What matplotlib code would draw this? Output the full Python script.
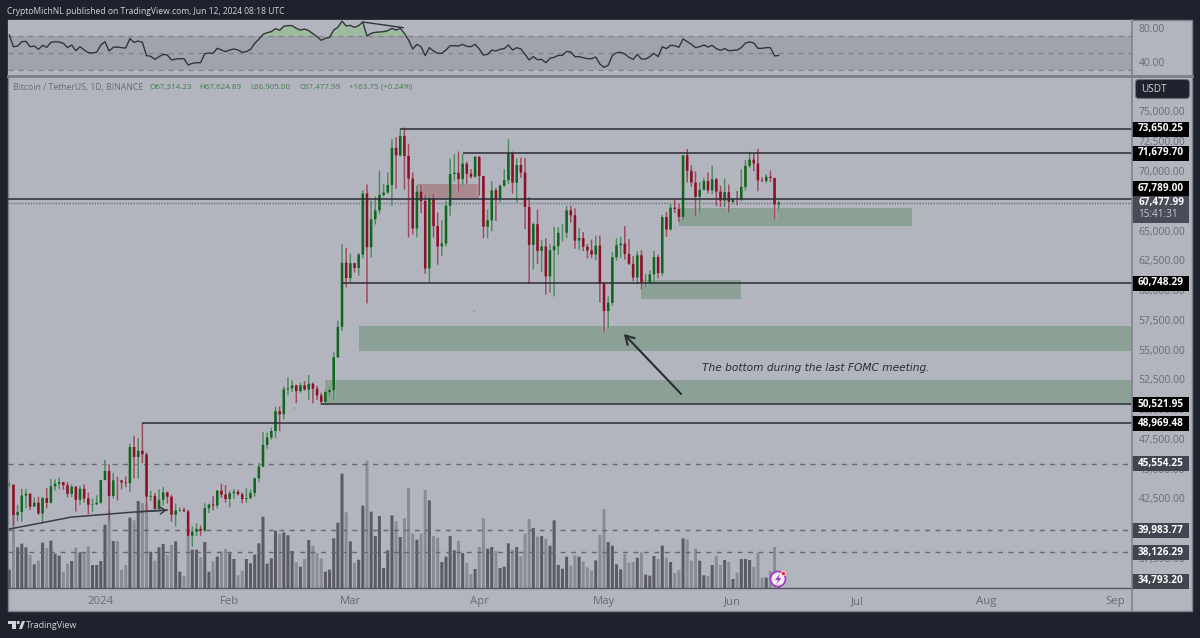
#!/usr/bin/env python3
"""BTC/USDT daily TradingView snapshot with RSI pane, volume and drawn levels."""
import matplotlib
matplotlib.use("Agg")
import matplotlib.pyplot as plt
import numpy as np
from matplotlib.patches import Circle, FancyBboxPatch, Polygon, Rectangle
from matplotlib.transforms import ScaledTranslation

plt.rcParams["font.family"] = ["Open Sans", "DejaVu Sans"]

# ── Data (one entry per day, 10 Dec 2023 to 12 Jun 2024) ──────────────────
opens = [
    43750, 43790, 41240, 41490, 42880, 43020, 41940, 42280, 41370, 42660, 42270, 43650, 43860, 43997, 43740, 43016, 43613, 42520, 43442, 42627, 42100, 42142,
    42284, 44180, 44946, 42845, 44151, 44145, 43968, 43929, 46951, 46110, 46632, 46339, 42782, 42847, 41732, 42511, 43137, 42776, 41262, 41618, 41665, 41545, 39507, 39845, 40077, 39933, 41816, 42120, 42035, 43288, 42952,
    42582, 43075, 43185, 42992, 42576, 42658, 43084, 44318, 45301, 47132, 47751, 48293, 49958, 49699, 51795, 51880, 52124, 51642, 52137, 51774, 52258, 51849, 51288, 50744, 51568, 51728, 54476, 57037, 62432,
    61130, 62387, 61987, 63113, 68245, 63724, 66074, 66823, 68124, 68313, 68955, 72078, 71452, 73072, 71388, 69499, 65300, 68393, 67609, 61937, 67840, 65501, 63796, 64037, 67211, 69880, 69988, 69451, 70744, 69892, 69645,
    71333, 69702, 65446, 65980, 68508, 67837, 68896, 69360, 71620, 69146, 70631, 70006, 67116, 63924, 65661, 63419, 63793, 61277, 63470, 63818, 64941, 64941, 66819, 66414, 64289, 64498, 63770, 63461, 63118, 63866,
    60672, 58364, 59060, 62882, 63892, 64031, 63161, 62334, 61187, 63049, 60792, 60793, 61448, 62901, 61552, 66256, 65231, 67051, 66940, 66278, 71446, 70148, 69166, 67969, 68549, 69290, 68507, 69436, 68398, 67652, 68352,
    67540, 67766, 67760, 68804, 70567, 71082, 70757, 69342, 69305, 69648, 69540, 67314,
]
highs = [
    44000, 43800, 42100, 43430, 43420, 43090, 42720, 42780, 42770, 43500, 44280, 44240, 44400, 44020, 44000, 43800, 43670, 43680, 43800, 43130, 42600, 42900,
    44180, 45880, 45500, 44770, 44480, 44190, 44480, 47250, 47890, 47700, 48970, 46500, 43260, 43080, 43400, 43580, 43200, 42930, 42200, 41870, 41880, 41680, 40280, 40550, 40350, 42230, 42200, 42840, 43320, 43880, 43750,
    43290, 43420, 43380, 43120, 43500, 43390, 44380, 45600, 48200, 48170, 48590, 50330, 50370, 52040, 52820, 52570, 52200, 52370, 52490, 52990, 52380, 52090, 51510, 51680, 52000, 54900, 57560, 64000, 63680,
    63180, 62430, 63230, 68500, 69000, 67640, 67990, 70170, 69050, 70000, 72800, 72970, 73650, 73777, 72420, 70000, 68900, 68930, 68100, 68030, 68240, 66650, 65970, 67620, 71150, 71560, 71770, 71550, 70900, 70300, 71370,
    71370, 69700, 66900, 69290, 68725, 69000, 70280, 72800, 71760, 71170, 71240, 71230, 67930, 65800, 66900, 64360, 64480, 64000, 65440, 65400, 65700, 67200, 67200, 67000, 65350, 65000, 64000, 64370, 64700, 64700,
    60780, 59600, 63300, 64490, 64600, 65500, 64400, 62990, 63400, 63470, 61490, 61800, 63420, 63100, 66440, 66700, 67400, 67700, 67400, 71450, 71980, 70620, 70100, 69200, 69560, 70000, 70600, 69560, 68900, 69500, 69000,
    67850, 68450, 70280, 71050, 71750, 71610, 71990, 69600, 69860, 70150, 69560, 67625,
]
lows = [
    43600, 40400, 40680, 40670, 41810, 41660, 41930, 41250, 40530, 41800, 42210, 43300, 43400, 43350, 42700, 42750, 41530, 42090, 42300, 41300, 41520, 42060,
    42180, 44150, 40750, 42630, 42450, 43400, 43580, 43200, 44300, 44300, 45600, 41500, 42440, 41720, 41720, 42050, 42200, 40680, 40280, 41500, 41500, 39430, 38555, 39480, 39500, 39820, 41400, 41620, 41800, 42680, 42280,
    41880, 42590, 42880, 42220, 42260, 42570, 42800, 44000, 45240, 46800, 47560, 47710, 48300, 49250, 51300, 51570, 50630, 51510, 51680, 50900, 50620, 50900, 50530, 50590, 51280, 50900, 54450, 56700, 60360,
    60800, 61600, 61320, 62790, 59000, 62850, 65630, 66500, 67960, 68230, 67190, 68620, 71330, 68555, 64530, 64800, 64550, 66600, 61500, 60775, 64530, 62260, 63000, 63790, 66380, 69280, 68380, 68900, 69050, 69500, 69560,
    68060, 64490, 64500, 65060, 65930, 67500, 68800, 69040, 68210, 67500, 69560, 65250, 60660, 61850, 62300, 61630, 59770, 59900, 59600, 63100, 64200, 64500, 65800, 63600, 63500, 63400, 62800, 62800, 62600, 59100,
    56550, 56900, 58800, 62600, 62800, 62700, 62250, 60880, 60630, 60190, 60400, 60620, 60750, 61100, 61300, 64600, 65100, 66600, 65830, 66000, 69160, 68800, 66300, 66600, 68500, 68250, 68200, 67200, 67100, 67100, 66650,
    67400, 67250, 67600, 68500, 70400, 70120, 68420, 69200, 69120, 69180, 66050, 66905,
]
closes = [
    43790, 41240, 41490, 42880, 43020, 41940, 42280, 41370, 42660, 42270, 43650, 43860, 43997, 43740, 43016, 43613, 42520, 43442, 42627, 42100, 42142, 42284,
    44180, 44946, 42845, 44151, 44145, 43968, 43929, 46951, 46110, 46632, 46339, 42782, 42847, 41732, 42511, 43137, 42776, 41262, 41618, 41665, 41545, 39507, 39845, 40077, 39933, 41816, 42120, 42035, 43288, 42952, 42582,
    43075, 43185, 42992, 42576, 42658, 43084, 44318, 45301, 47132, 47751, 48293, 49958, 49699, 51795, 51880, 52124, 51642, 52137, 51774, 52258, 51849, 51288, 50744, 51568, 51728, 54476, 57037, 62432, 61130,
    62387, 61987, 63113, 68245, 63724, 66074, 66823, 68124, 68313, 68955, 72078, 71452, 73072, 71388, 69499, 65300, 68393, 67609, 61937, 67840, 65501, 63796, 64037, 67211, 69880, 69988, 69451, 70744, 69892, 69645, 71333,
    69702, 65446, 65980, 68508, 67837, 68896, 69360, 71620, 69146, 70631, 70006, 67116, 63924, 65661, 63419, 63793, 61277, 63470, 63818, 64941, 64941, 66819, 66414, 64289, 64498, 63770, 63461, 63118, 63866, 60672,
    58364, 59060, 62882, 63892, 64031, 63161, 62334, 61187, 63049, 60792, 60793, 61448, 62901, 61552, 66256, 65231, 67051, 66940, 66278, 71446, 70148, 69166, 67969, 68549, 69290, 68507, 69436, 68398, 67652, 68352, 67540,
    67766, 67760, 68804, 70567, 71082, 70757, 69342, 69305, 69648, 69540, 67314, 67478,
]
# relative units, the pane has no scale of its own
volumes = [
    55, 225, 122, 133, 122, 99, 71, 82, 136, 120, 142, 103, 97, 49, 73, 81, 121, 107, 105, 125, 69, 69,
    81, 190, 235, 141, 141, 55, 69, 211, 203, 261, 255, 253, 109, 82, 122, 132, 99, 129, 140, 49, 37, 160, 115, 115, 92, 138, 49, 80, 94, 110, 117,
    104, 87, 38, 52, 87, 74, 100, 134, 214, 73, 89, 172, 163, 167, 158, 111, 77, 64, 87, 144, 127, 105, 89, 49, 55, 149, 196, 343, 227,
    140, 75, 85, 247, 382, 229, 156, 216, 60, 113, 218, 200, 153, 209, 300, 163, 145, 163, 294, 263, 156, 151, 78, 94, 156, 113, 142, 105, 75, 42, 57,
    123, 209, 118, 123, 111, 60, 64, 134, 115, 123, 95, 163, 207, 180, 154, 156, 148, 127, 203, 69, 58, 94, 67, 98, 94, 80, 62, 52, 83, 160,
    236, 138, 127, 71, 56, 102, 76, 78, 91, 107, 40, 37, 96, 87, 127, 91, 78, 45, 54, 149, 145, 82, 118, 82, 38, 36, 69, 96, 69, 84, 78,
    27, 46, 87, 87, 84, 64, 105, 31, 31, 51, 123, 40,
]
rsi = [
    71.2, 57.4, 58.2, 63.3, 63.7, 57.4, 58.2, 54.3, 59.0, 56.7, 62.5, 63.3, 62.9,
    61.4, 56.3, 59.4, 52.7, 57.4, 53.5, 50.4, 50.0, 50.8, 59.4, 63.3, 52.3, 56.7, 57.0, 56.3, 55.9, 66.9, 62.5, 64.1, 62.5,
    46.9, 46.1, 42.5, 45.7, 48.4, 47.6, 41.8, 42.9, 43.3, 43.3, 35.9, 37.8, 38.6, 38.6, 49.2, 50.0, 49.6, 55.5, 53.5, 51.6,
    53.5, 54.7, 53.5, 50.8, 51.6, 54.3, 61.4, 66.1, 71.9, 73.9, 75.1, 78.6, 76.7, 81.4, 82.2, 82.2, 79.0, 77.0, 78.2, 76.3,
    72.7, 69.2, 64.9, 67.2, 68.4, 77.0, 80.2, 87.6, 81.8, 82.5, 80.2, 82.2, 86.5, 70.0, 73.1, 74.3, 74.7, 75.1, 76.3, 79.0,
    77.0, 79.0, 73.1, 65.3, 54.7, 60.2, 57.4, 46.9, 56.3, 52.3, 49.6, 49.6, 53.5, 58.6,
    58.6, 58.2, 60.2, 57.8, 57.4, 60.2, 54.7, 47.6, 48.4, 53.5, 52.3, 54.3, 55.1, 59.4, 53.5, 56.3, 54.7, 48.4, 41.8, 45.7,
    42.1, 42.5, 38.6, 43.7, 44.9, 47.2, 47.2, 51.9, 51.2, 45.7, 45.7, 44.5, 43.3, 43.3, 45.3, 37.0, 33.1, 35.5, 47.2, 50.4,
    50.8, 48.8, 44.9, 42.5, 48.4, 42.9, 42.9, 45.7, 49.6, 45.7, 57.4, 55.1, 59.0, 58.6, 56.7, 66.5, 63.3, 60.2, 56.3, 57.4,
    59.4, 57.0, 59.0, 55.1, 53.1, 55.1, 52.7, 53.1, 53.5, 56.3, 61.8, 62.9, 61.8, 55.5, 55.5, 56.3, 56.3, 46.5, 47.2,
]
first_day = -22  # day number of the first candle, 1 Jan 2024 is day 0

month_days = [0, 31, 60, 91, 121, 152, 182, 213, 244]
month_labels = ["2024", "Feb", "Mar", "Apr", "May", "Jun", "Jul", "Aug", "Sep"]
price_ticks = np.arange(37500, 75001, 2500)

level_prices = [73650.25, 71679.70, 67789.00, 60748.29, 50521.95, 48969.48]
level_start_days = [72, 87, -23, 58, 53, 10]
dashed_prices = [45554.25, 39983.77, 38126.29]
last_close = 67477.99

# left day, right day, low price, high price
green_zones = [
    (139, 195, 65550, 67030),
    (130, 154, 59400, 60970),
    (62, 248, 55010, 57130),
    (54, 248, 50560, 52580),
]
red_zone = (76, 91, 67780, 69030)
curve_days = [-22, -7, -4, 8, 16]
curve_prices = [40060, 41070, 41150, 41490, 41660]

# ── Layout and palette ────────────────────────────────────────────────────
W, H = 1200, 638
X0, X1 = 8, 1132       # plot area left and right, pixels
Y_MAIN, Y_BASE = 77, 588
USD_PER_PX = 83.98
PX_PER_DAY = 4.159
X_DAY0 = 100.8

DARK = "#1e222d"
PANEL = "#b2b5be"
BAND = "#a1a3ac"
EDGE = "#80838f"
AXIS_TEXT = "#686b76"
LINE = "#2b2b33"
GREEN = "#12651f"
RED = "#8b1028"
GREEN_WICK = "#4d8a5e"
RED_WICK = "#a0485c"
ZONE_GREEN = "#8ca195"
ZONE_RED = "#a98990"
VOL_UP = "#5a5b63"
VOL_DOWN = "#8a8b95"
TEXT_GREEN = "#3d7c4b"


def rect(x0, y0, x1, y1):
    return [x0 / W, 1 - y1 / H, (x1 - x0) / W, (y1 - y0) / H]


def day_of(x):
    return (x - X_DAY0) / PX_PER_DAY


def price_of(y):
    return 75000 - (y - 113) * USD_PER_PX


def lift_labels(labels, px):
    # tick text sits a little low against the screenshot
    for label in labels:
        label.set_transform(label.get_transform()
                            + ScaledTranslation(0, px / 100, fig.dpi_scale_trans))


days = first_day + np.arange(len(closes))
opens_a, highs_a, lows_a, closes_a = map(np.array, (opens, highs, lows, closes))
rising = closes_a >= opens_a
xlim = (day_of(X0), day_of(X1))

fig = plt.figure(figsize=(W / 100, H / 100), dpi=100, facecolor=DARK)

# ── Pixel-space background and overlay ────────────────────────────────────
ax_bg = fig.add_axes([0, 0, 1, 1], zorder=0)
ax_bg.set_xlim(0, W)
ax_bg.set_ylim(H, 0)
ax_bg.axis("off")
ax_bg.add_patch(Rectangle((X0, 20), 1192 - X0, 591, fc=PANEL, ec=EDGE, lw=1))

ov = fig.add_axes([0, 0, 1, 1], zorder=5)
ov.set_xlim(0, W)
ov.set_ylim(H, 0)
ov.axis("off")
ov.patch.set_alpha(0)

# ── RSI pane ──────────────────────────────────────────────────────────────
ax_rsi = fig.add_axes(rect(X0, 20, X1, 75), zorder=2)
ax_rsi.set_facecolor(PANEL)
ax_rsi.set_xlim(xlim)
ax_rsi.set_ylim(70 - 39 / 0.85, 70 + 16 / 0.85)
ax_rsi.axhspan(30, 70, color=BAND, lw=0)
for level in (30, 50, 70):
    ax_rsi.axhline(level, color="#7f818b", lw=0.9, ls=(0, (4, 4)))
rsi_days = first_day + np.arange(len(rsi))
rsi_a = np.array(rsi)
ax_rsi.fill_between(rsi_days, 70, rsi_a, where=rsi_a > 70, interpolate=True,
                    color="#9dbb9f", lw=0)
ax_rsi.plot(rsi_days, rsi_a, color="#33343c", lw=1.0)
ax_rsi.plot([63, 72.7], [86.5, 79.8], color="#33343c", lw=1.0)
ax_rsi.set_xticks([])
ax_rsi.set_yticks([80, 40], ["80.00", "40.00"], fontsize=7.5, color=AXIS_TEXT)
ax_rsi.yaxis.tick_right()
ax_rsi.tick_params(axis="y", length=0, pad=4.8)
for spine in ax_rsi.spines.values():
    spine.set_visible(False)

# ── Volume ────────────────────────────────────────────────────────────────
ax_vol = fig.add_axes(rect(X0, Y_MAIN, X1, Y_BASE), zorder=1)
ax_vol.patch.set_alpha(0)
ax_vol.set_xlim(xlim)
ax_vol.set_ylim(0, (Y_BASE - Y_MAIN) * 3)
vol_bars = ax_vol.bar(days, volumes, width=0.72, lw=0,
                      color=[VOL_UP if r else VOL_DOWN for r in rising])
for bar in vol_bars:
    bar.set_snap(False)
ax_vol.axis("off")

# ── Price pane ────────────────────────────────────────────────────────────
ax = fig.add_axes(rect(X0, Y_MAIN, X1, Y_BASE), zorder=3)
ax.patch.set_alpha(0)
ax.set_xlim(xlim)
ax.set_ylim(price_of(Y_BASE), price_of(Y_MAIN))

for d0, d1, p0, p1 in green_zones:
    ax.add_patch(Rectangle((d0, p0), d1 - d0, p1 - p0, fc=ZONE_GREEN, lw=0, zorder=1))
ax.add_patch(Rectangle((red_zone[0], red_zone[2]), red_zone[1] - red_zone[0],
                       red_zone[3] - red_zone[2], fc=ZONE_RED, lw=0, zorder=1))

for p in dashed_prices:
    ax.axhline(p, color="#66676f", lw=1.0, ls=(0, (3.5, 4)), zorder=2)
ax.axhline(last_close, color="#70727c", lw=1.0, ls=(0, (1, 1)), zorder=2)
ax.hlines(level_prices, level_start_days, xlim[1], color=LINE, lw=1.1, zorder=5)

# pale halo first, the blur around candles in the screenshot
ax.vlines(days, lows_a, highs_a, color="#c6c8d0", lw=2.6, alpha=0.3, zorder=2.5)
wicks = ax.vlines(days, lows_a, highs_a, lw=1.1, zorder=3,
                  color=[GREEN_WICK if r else RED_WICK for r in rising])
wicks.set_snap(False)
bodies = ax.bar(days, np.abs(closes_a - opens_a), bottom=np.minimum(opens_a, closes_a),
                width=0.62, lw=0, zorder=4, color=[GREEN if r else RED for r in rising])
for bar in bodies:
    bar.set_snap(False)

ax.plot(curve_days, curve_prices, color="#3b3c46", lw=1.1, zorder=5)
ax.annotate("", xy=(curve_days[-1] + 0.6, curve_prices[-1]),
            xytext=(curve_days[-2], curve_prices[-2]), zorder=5,
            arrowprops=dict(arrowstyle="->,head_width=0.25,head_length=0.4",
                            color="#3b3c46", lw=1.1))

ax.set_xticks(month_days, month_labels, fontsize=8.2, color=AXIS_TEXT, fontweight="medium")
ax.set_yticks(price_ticks, [f"{p:,.2f}" for p in price_ticks], fontsize=7.5, color=AXIS_TEXT)
ax.yaxis.tick_right()
ax.tick_params(axis="y", length=0, pad=4.8)
ax.tick_params(axis="x", length=0, pad=6)
lift_labels(ax.get_yticklabels(), 1.5)
for name, spine in ax.spines.items():
    spine.set_visible(name == "bottom")
ax.spines["bottom"].set_color("#55565f")
ax.spines["bottom"].set_linewidth(1.0)

# ── Frame lines ───────────────────────────────────────────────────────────
ov.plot([X1, X1], [20, 611], color=EDGE, lw=1.2)
ov.plot([X0, 1192], [76, 76], color="#7c7e89", lw=2.0)

# ── Long arrow and note ───────────────────────────────────────────────────
ov.annotate("", xy=(622, 332), xytext=(683, 396),
            arrowprops=dict(arrowstyle="->,head_width=0.35,head_length=0.6",
                            color=LINE, lw=1.5))
ov.text(702, 368, "The bottom during the last FOMC meeting.", fontsize=7.7, style="italic",
        family="DejaVu Sans", color=LINE, va="center", ha="left")
ov.add_patch(Circle((474, 311), 0.7, fc="#80828c", lw=0))
ov.add_patch(Circle((295, 408), 0.7, fc="#80828c", lw=0))

# ── Header and legend ─────────────────────────────────────────────────────
ov.text(7, 11, "CryptoMichNL published on TradingView.com, Jun 12, 2024 08:18 UTC",
        fontsize=6.15, color="#d1d4dc", va="center", ha="left")
ov.text(13, 87.5, "Bitcoin / TetherUS, 1D, BINANCE", fontsize=6.2, color=AXIS_TEXT,
        va="center", ha="left")
legend_x = [149, 199, 250, 299, 349]
legend_txt = ["O67,314.23", "H67,624.89", "L66,905.00", "C67,477.99", "+163.75 (+0.24%)"]
for lx, lt in zip(legend_x, legend_txt):
    ov.text(lx, 87.5, lt, fontsize=5.8, color=TEXT_GREEN, va="center", ha="left")

# ── Price tags ────────────────────────────────────────────────────────────
black_tags = [(129, "73,650.25"), (153, "71,679.70"), (188, "67,789.00"),
              (283, "60,748.29"), (404.5, "50,521.95"), (423.5, "48,969.48")]
grey_tags = [(463.5, "45,554.25"), (530, "39,983.77"), (552, "38,126.29"), (581, "34,793.20")]
for tag_y, label in black_tags + grey_tags:
    fc = "#000000" if (tag_y, label) in black_tags else "#42444f"
    ov.add_patch(Rectangle((X1, tag_y - 7.5), 57, 15, fc=fc, lw=0))
    ov.text(X1 + 29, tag_y, label, fontsize=7.2, fontweight="bold", color="white",
            ha="center", va="center")
ov.add_patch(Rectangle((X1, 195.5), 57, 27, fc="#494b58", lw=0))
ov.text(X1 + 6.5, 202.5, "67,477.99", fontsize=7.2, fontweight="bold", color="white",
        ha="left", va="center")
ov.text(X1 + 6.5, 214.5, "15:41:31", fontsize=7.2, color="#c8cad2", ha="left", va="center")

ov.add_patch(FancyBboxPatch((1136, 80), 53, 18, boxstyle="round,pad=0.5,rounding_size=3",
                            fc=DARK, ec="#6d707c", lw=0.8))
ov.text(1141, 89, "USDT", fontsize=7.2, color="#d1d4dc", ha="left", va="center")

# ── Alert badge over the last volume bars ─────────────────────────────────
ov.add_patch(Circle((778, 579), 7.5, fc="#f4eef8", ec="#a63ccb", lw=1.3))
ov.add_patch(Polygon([(780, 573.5), (775, 580), (778, 580), (776, 584.5), (781.5, 578),
                      (778.5, 578)], fc="#a63ccb", lw=0))
ov.add_patch(Circle((783.3, 573.5), 2.2, fc="#f0222e", ec="white", lw=0.5))

# ── Footer logo ───────────────────────────────────────────────────────────
ov.add_patch(Polygon([(8, 621), (16, 621), (16, 629), (12, 629), (12, 624), (8, 624)],
                     fc="#d1d4dc", lw=0))
ov.add_patch(Circle((18.2, 622.5), 1.6, fc="#d1d4dc", lw=0))
ov.add_patch(Polygon([(19, 629), (22, 621), (25, 621), (22, 629)], fc="#d1d4dc", lw=0))
ov.text(25.5, 625, "TradingView", fontsize=6.5, color="#d1d4dc", va="center", ha="left")

fig.savefig("out.png", dpi=100, facecolor=DARK)
